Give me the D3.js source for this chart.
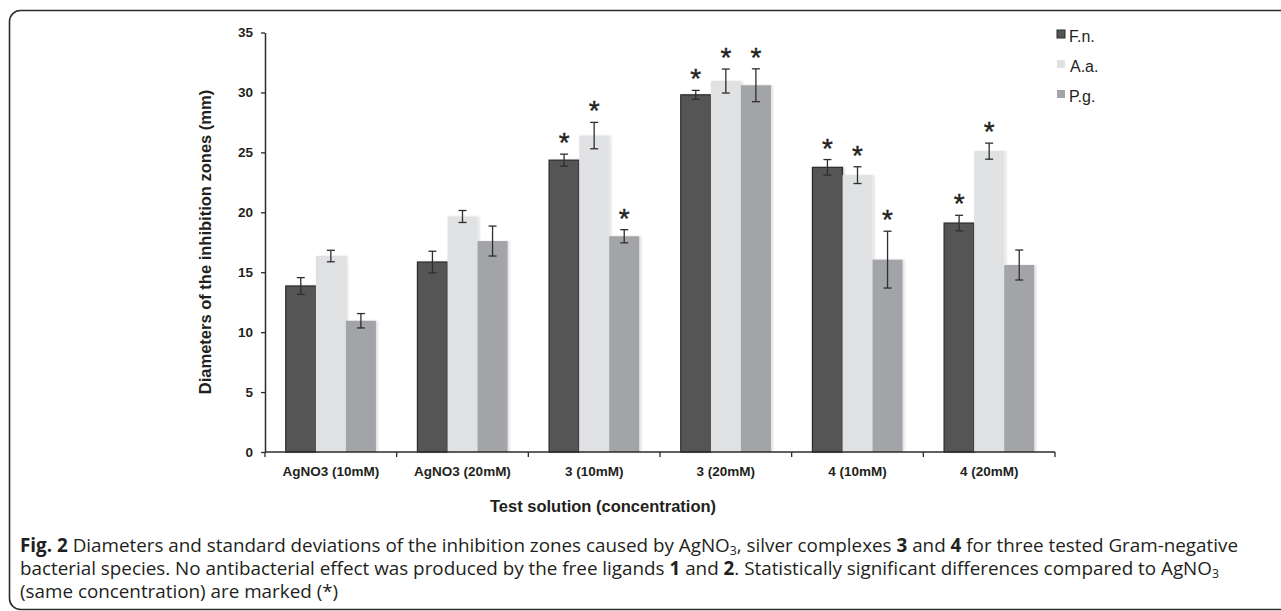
<!DOCTYPE html>
<html>
<head>
<meta charset="utf-8">
<script src="https://cdn.jsdelivr.net/npm/d3@7"></script>
<style>
  body { margin: 0; background: #fff; }
  svg { display: block; }
</style>
</head>
<body>
<div id="chart"></div>
<script>
// data
var categories = ["AgNO3 (10mM)", "AgNO3 (20mM)", "3 (10mM)", "3 (20mM)", "4 (10mM)", "4 (20mM)"];
var series = ["F.n.", "A.a.", "P.g."];
var fnValues = [13.85, 15.85, 24.35, 29.8, 23.75, 19.1];
var aaValues = [16.35, 19.65, 26.4, 30.95, 23.1, 25.1];
var pgValues = [10.95, 17.6, 18.0, 30.6, 16.05, 15.6];
var fnErrors = [0.7, 0.9, 0.5, 0.37, 0.65, 0.65];
var aaErrors = [0.48, 0.5, 1.1, 1.0, 0.7, 0.67];
var pgErrors = [0.6, 1.25, 0.55, 1.37, 2.37, 1.25];
// significance marks (*), per series
var fnSig = [false, false, true, true, true, true];
var aaSig = [false, false, true, true, true, true];
var pgSig = [false, false, true, true, true, false];
var yTicks = [0, 5, 10, 15, 20, 25, 30, 35];

var colors = { "F.n.": "#545557", "A.a.": "#e0e1e3", "P.g.": "#a3a4a7" };

var width = 1281;
var height = 611;
var font = "'Liberation Sans', Arial, sans-serif";

var svg = d3.select("#chart")
    .append("svg")
    .attr("width", width)
    .attr("height", height);

// soft shadow to the right of the bars
var defs = svg.append("defs");
var shadow = defs.append("filter").attr("id", "shadow")
    .attr("x", "-20%").attr("y", "-5%").attr("width", "150%").attr("height", "110%");
shadow.append("feDropShadow")
    .attr("dx", 2).attr("dy", 0)
    .attr("stdDeviation", 1)
    .attr("flood-color", "#000")
    .attr("flood-opacity", 0.12);

// frame round the figure
svg.append("rect")
    .attr("x", 9.5).attr("y", 10.5)
    .attr("width", 1320).attr("height", 599)
    .attr("rx", 11).attr("ry", 11)
    .attr("fill", "none")
    .attr("stroke", "#2b2b2b")
    .attr("stroke-width", 1.6);

// build rows from the arrays
var rows = categories.map(function (c, i) {
    return {
        cat: c,
        vals: [
            { s: "F.n.", v: fnValues[i], e: fnErrors[i], sig: fnSig[i] },
            { s: "A.a.", v: aaValues[i], e: aaErrors[i], sig: aaSig[i] },
            { s: "P.g.", v: pgValues[i], e: pgErrors[i], sig: pgSig[i] }
        ]
    };
});

var x0 = d3.scaleBand()
    .domain(categories)
    .range([265, 1055])
    .padding(0);

var x1 = d3.scaleBand()
    .domain(series)
    .range([0, x0.bandwidth()])
    .paddingInner(0)
    .paddingOuter(0.69);

var y = d3.scaleLinear()
    .domain([0, 35])
    .range([452, 32.5]);

// bars
var groups = svg.selectAll("g.grp")
    .data(rows)
    .enter()
    .append("g")
    .attr("class", "grp")
    .attr("transform", function (d) { return "translate(" + x0(d.cat) + ",0)"; });

groups.selectAll("rect")
    .data(function (d) { return d.vals; })
    .enter()
    .append("rect")
    .attr("x", function (d) { return x1(d.s); })
    .attr("y", function (d) { return y(d.v); })
    .attr("width", x1.bandwidth())
    .attr("height", function (d) { return y(0) - y(d.v); })
    .attr("fill", function (d) { return colors[d.s]; })
    .attr("stroke", function (d) { return d.s === "F.n." ? "#2a2a2a" : "none"; })
    .attr("stroke-width", 1.2)
    .attr("filter", "url(#shadow)");

// error bars
var err = groups.selectAll("g.err")
    .data(function (d) { return d.vals; })
    .enter()
    .append("g")
    .attr("class", "err")
    .attr("stroke", "#2e2e2e")
    .attr("stroke-width", 1.3);

err.append("line")
    .attr("x1", function (d) { return x1(d.s) + x1.bandwidth() / 2; })
    .attr("x2", function (d) { return x1(d.s) + x1.bandwidth() / 2; })
    .attr("y1", function (d) { return y(d.v + d.e); })
    .attr("y2", function (d) { return y(d.v - d.e); });

err.append("line")
    .attr("x1", function (d) { return x1(d.s) + x1.bandwidth() / 2 - 4; })
    .attr("x2", function (d) { return x1(d.s) + x1.bandwidth() / 2 + 4; })
    .attr("y1", function (d) { return y(d.v + d.e); })
    .attr("y2", function (d) { return y(d.v + d.e); });

err.append("line")
    .attr("x1", function (d) { return x1(d.s) + x1.bandwidth() / 2 - 4; })
    .attr("x2", function (d) { return x1(d.s) + x1.bandwidth() / 2 + 4; })
    .attr("y1", function (d) { return y(d.v - d.e); })
    .attr("y2", function (d) { return y(d.v - d.e); });

// significance stars
groups.selectAll("text.star")
    .data(function (d) { return d.vals.filter(function (v) { return v.sig; }); })
    .enter()
    .append("text")
    .attr("class", "star")
    .attr("x", function (d) { return x1(d.s) + x1.bandwidth() / 2; })
    .attr("y", function (d) { return y(d.v + d.e) - 2; })
    .attr("text-anchor", "middle")
    .style("font-family", font)
    .style("font-size", "28px")
    .style("fill", "#231f20")
    .style("stroke", "#231f20")
    .style("stroke-width", 0.4)
    .text("*");

// y axis
var yAxis = svg.append("g")
    .attr("transform", "translate(265,0)")
    .call(d3.axisLeft(y).tickValues(yTicks).tickSize(4).tickPadding(8).tickSizeOuter(0));
yAxis.select(".domain").attr("stroke", "#2b2b2b").attr("stroke-width", 1.5);
yAxis.selectAll(".tick line").attr("stroke", "#2b2b2b").attr("stroke-width", 1.3);
yAxis.selectAll(".tick text")
    .style("font-family", font)
    .style("font-size", "13.5px")
    .style("font-weight", "bold")
    .style("fill", "#231f20");

// x axis: line, boundary ticks, centred labels
svg.append("line")
    .attr("x1", 265).attr("x2", 1055)
    .attr("y1", y(0)).attr("y2", y(0))
    .attr("stroke", "#2b2b2b").attr("stroke-width", 1.5);

var bounds = categories.map(function (c) { return x0(c); }).concat([x0.range()[1]]);
svg.selectAll("line.xtick")
    .data(bounds)
    .enter()
    .append("line")
    .attr("class", "xtick")
    .attr("x1", function (d) { return d; })
    .attr("x2", function (d) { return d; })
    .attr("y1", y(0)).attr("y2", y(0) + 5)
    .attr("stroke", "#2b2b2b").attr("stroke-width", 1.3);

svg.selectAll("text.xlab")
    .data(categories)
    .enter()
    .append("text")
    .attr("class", "xlab")
    .attr("x", function (d) { return x0(d) + x0.bandwidth() / 2; })
    .attr("y", 475.5)
    .attr("text-anchor", "middle")
    .style("font-family", font)
    .style("font-size", "13.5px")
    .style("font-weight", "bold")
    .style("fill", "#231f20")
    .text(function (d) { return d; });

// axis titles
svg.append("text")
    .attr("transform", "translate(211,242) rotate(-90)")
    .attr("text-anchor", "middle")
    .style("font-family", font)
    .style("font-size", "16.5px")
    .style("font-weight", "bold")
    .style("fill", "#231f20")
    .text("Diameters of the inhibition zones (mm)");

svg.append("text")
    .attr("x", 603).attr("y", 512)
    .attr("text-anchor", "middle")
    .style("font-family", font)
    .style("font-size", "16.5px")
    .style("font-weight", "bold")
    .style("fill", "#231f20")
    .text("Test solution (concentration)");

// legend
var legend = svg.selectAll("g.leg")
    .data(series)
    .enter()
    .append("g")
    .attr("class", "leg")
    .attr("transform", function (d, i) { return "translate(1057," + (30 + i * 30) + ")"; });

legend.append("rect")
    .attr("width", 8).attr("height", 8)
    .attr("fill", function (d) { return colors[d]; })
    .attr("stroke", function (d) { return d === "F.n." ? "#2a2a2a" : "none"; })
    .attr("stroke-width", 1);

legend.append("text")
    .attr("x", function (d) { return d === "A.a." ? 13 : 12; })
    .attr("y", 11.5)
    .style("font-family", font)
    .style("font-size", "16px")
    .style("fill", "#231f20")
    .text(function (d) { return d; });

// caption, with bold parts and subscripts
var captionLines = [
    [["Fig. 2", "b"], [" Diameters and standard deviations of the inhibition zones caused by AgNO", ""], ["3", "sub"], [", silver complexes ", ""], ["3", "b"], [" and ", ""], ["4", "b"], [" for three tested Gram-negative", ""]],
    [["bacterial species. No antibacterial effect was produced by the free ligands ", ""], ["1", "b"], [" and ", ""], ["2", "b"], [". Statistically significant differences compared to AgNO", ""], ["3", "sub"]],
    [["(same concentration) are marked (*)", ""]]
];
var captionBase = [552, 575, 598];

var capFont = "'Open Sans', 'Noto Sans', sans-serif";
var cap = svg.append("g");
captionLines.forEach(function (parts, i) {
    var t = cap.append("text")
        .attr("class", "capline")
        .attr("x", 20)
        .attr("y", captionBase[i])
        .style("font-family", capFont)
        .style("font-size", "17px")
        .style("fill", "#231f20");
    parts.forEach(function (p, k) {
        var ts = t.append("tspan").text(p[0]);
        if (p[1] === "b") ts.style("font-weight", "bold");
        if (p[1] === "sub") ts.attr("class", "sub").attr("dy", 3);
        if (k > 0 && parts[k - 1][1] === "sub") ts.attr("dy", -3);
    });
});

// scale caption so the first line spans the same width as in the figure
var firstLen = cap.select("text.capline").node().getComputedTextLength();
var fs = 17 * 1222 / firstLen;
cap.selectAll("text.capline").style("font-size", fs + "px");
cap.selectAll("tspan.sub").style("font-size", (fs * 0.65) + "px");
</script>
</body>
</html>
